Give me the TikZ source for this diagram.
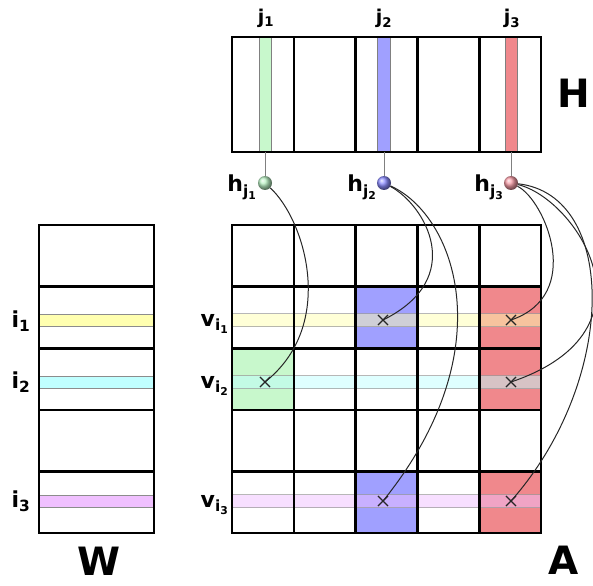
\documentclass[tikz,border=0pt]{standalone}
\usepackage{fontspec}
\setmainfont{DejaVu Sans}
\usetikzlibrary{shapes.misc}
\definecolor{greenc}{RGB}{200,248,204}
\definecolor{bluec}{RGB}{160,160,255}
\definecolor{redc}{RGB}{240,136,140}
\definecolor{yellowc}{RGB}{255,255,176}
\definecolor{cyanc}{RGB}{192,255,255}
\definecolor{violetc}{RGB}{240,192,255}
\definecolor{gballc}{RGB}{185,240,195}
\definecolor{bballc}{RGB}{140,140,255}
\definecolor{rballc}{RGB}{245,155,165}
\tikzset{
  gridline/.style={line width=2.6pt, black, line cap=rect},
  band/.style={fill opacity=0.5, draw=black!40, draw opacity=0.7, line width=0.8pt},
  wband/.style={draw=black!45, line width=0.8pt},
  stripe/.style={draw=black!50, line width=0.8pt},
  ballnode/.style={circle, minimum size=14pt, inner sep=0pt, shading=ball},
  xmark/.style={cross out, draw=black!85, line width=1.1pt, minimum size=9pt, inner sep=0pt},
  link/.style={black!85, line width=1pt},
  stem/.style={black!50, line width=1pt},
  big/.style={font=\fontsize{39}{42}\selectfont\bfseries, inner sep=0pt},
  lab/.style={font=\fontsize{22}{24}\selectfont\bfseries, inner sep=0pt},
  jlab/.style={font=\fontsize{19}{21}\selectfont\bfseries, inner sep=0pt},
}
\begin{document}
\begin{tikzpicture}[x=1pt,y=-1pt]
\useasboundingbox (0,0) rectangle (593,585);

% ---------- H ----------
\filldraw[stripe, fill=greenc] (259,37) rectangle (271,152);
\filldraw[stripe, fill=bluec] (377,37) rectangle (390,152);
\filldraw[stripe, fill=redc] (505,37) rectangle (517,152);
\foreach \k in {1,...,4} {
  \draw[gridline] ({232+61.8*\k},37) -- ({232+61.8*\k},152);
}
\draw[gridline] (232,37) rectangle (541,152);

\node[jlab] (j1) at (266,18) {j\textsubscript{1}};
\node[jlab] (j2) at (384,18) {j\textsubscript{2}};
\node[jlab] (j3) at (512,18) {j\textsubscript{3}};
\node[big] (Hl) at (574,93) {H};

% stems and balls
\coordinate (s1) at (265,152);
\coordinate (s2) at (384,152);
\coordinate (s3) at (511,152);
\node[ballnode, ball color=gballc] (h1) at (265,183) {};
\node[ballnode, ball color=bballc] (h2) at (384,183) {};
\node[ballnode, ball color=rballc] (h3) at (511,183) {};
\draw[stem] (s1) -- (h1);
\draw[stem] (s2) -- (h2);
\draw[stem] (s3) -- (h3);
\node[lab, anchor=base east] (hl1) at (257,192) {h\textsubscript{j\textsubscript{1}}};
\node[lab, anchor=base east] (hl2) at (377,192) {h\textsubscript{j\textsubscript{2}}};
\node[lab, anchor=base east] (hl3) at (504,192) {h\textsubscript{j\textsubscript{3}}};

% ---------- W ----------
\filldraw[wband, fill=yellowc] (39,314) rectangle (154,326);
\filldraw[wband, fill=cyanc] (39,376) rectangle (154,388);
\filldraw[wband, fill=violetc] (39,495) rectangle (154,507);
\foreach \k in {1,...,4} {
  \draw[gridline] (39,{225+61.6*\k}) -- (154,{225+61.6*\k});
}
\draw[gridline] (39,225) rectangle (154,533);
\node[lab, anchor=base] (i1) at (21,327) {i\textsubscript{1}};
\node[lab, anchor=base] (i2) at (21,388) {i\textsubscript{2}};
\node[lab, anchor=base] (i3) at (21,507) {i\textsubscript{3}};
\node[big] (Wl) at (99,561) {W};

% ---------- A ----------
\fill[bluec] (355.6,286.6) rectangle (417.4,348.2);
\fill[redc] (479.2,286.6) rectangle (541,409.8);
\fill[greenc] (232,348.2) rectangle (293.8,409.8);
\fill[bluec] (355.6,471.4) rectangle (417.4,533);
\fill[redc] (479.2,471.4) rectangle (541,533);
\filldraw[band, fill=yellowc] (232,313.5) rectangle (541,326.5);
\filldraw[band, fill=cyanc] (232,375.5) rectangle (541,388.5);
\filldraw[band, fill=violetc] (232,494.5) rectangle (541,507.5);
\foreach \k in {0,...,5} {
  \draw[gridline] ({232+61.8*\k},225) -- ({232+61.8*\k},533);
  \draw[gridline] (232,{225+61.6*\k}) -- (541,{225+61.6*\k});
}
\node[lab, anchor=base east] (v1) at (229,326) {v\textsubscript{i\textsubscript{1}}};
\node[lab, anchor=base east] (v2) at (229,388) {v\textsubscript{i\textsubscript{2}}};
\node[lab, anchor=base east] (v3) at (229,507) {v\textsubscript{i\textsubscript{3}}};
\node[big] (Al) at (564,560) {A};

% crosses
\node[xmark] (xa2) at (383,320) {};
\node[xmark] (xa3) at (511,320) {};
\node[xmark] (xb1) at (265,382) {};
\node[xmark] (xb3) at (511,382) {};
\node[xmark] (xc2) at (383,501) {};
\node[xmark] (xc3) at (511,501) {};

% links
\draw[link] (h1) .. controls (305,220) and (337,325) .. (xb1.center);
\draw[link] (h2) .. controls (425,205) and (468,278) .. (xa2.center);
\draw[link] (h2) .. controls (455,215) and (505,350) .. (xc2.center);
\draw[link] (h3) .. controls (545,200) and (585,295) .. (xa3.center);
\draw[link] (h3) .. controls (575,198) and (665,330) .. (xb3.center);
\draw[link] (h3) .. controls (618,195) and (618,380) .. (xc3.center);
\end{tikzpicture}
\end{document}
